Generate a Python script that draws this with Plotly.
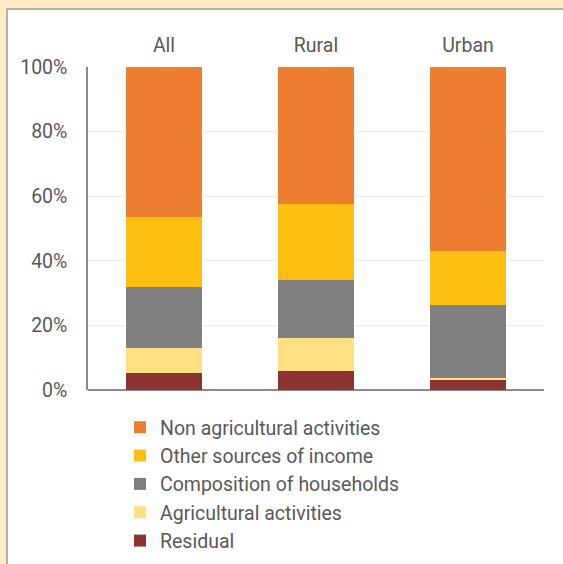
import plotly.graph_objects as go

categories = ["All", "Rural", "Urban"]
residual = [5.3, 5.9, 3.4]
agricultural = [7.7, 10.2, 0.4]
composition = [18.9, 18.0, 22.5]
other_sources = [21.7, 23.5, 16.6]
non_agricultural = [46.4, 42.4, 57.1]
y_ticks = [0, 20, 40, 60, 80, 100]
y_tick_labels = ["0%", "20%", "40%", "60%", "80%", "100%"]

series = [
    ("Residual", residual, "#8C3530"),
    ("Agricultural activities", agricultural, "#FFE083"),
    ("Composition of households", composition, "#808080"),
    ("Other sources of income", other_sources, "#FCBF12"),
    ("Non agricultural activities", non_agricultural, "#ED7D31"),
]

W, H = 563, 564
L, R, T, B = 88, 19, 67, 174
pw, ph = W - L - R, H - T - B

def px(x):
    return (x - L) / pw

def py(y):
    return (H - B - y) / ph

fig = go.Figure()
for name, vals, col in series:
    fig.add_trace(go.Bar(x=categories, y=vals, name=name, marker_color=col,
                         marker_line_width=0, width=0.5))

font_family = "Roboto, 'Noto Sans', sans-serif"
fs = 19.5
fig.update_layout(
    width=W, height=H,
    margin=dict(l=L, r=R, t=T, b=B, pad=0, autoexpand=False),
    barmode="stack",
    paper_bgcolor="white",
    plot_bgcolor="white",
    font=dict(family=font_family, size=fs, color="#595959"),
    showlegend=True,
    legend=dict(traceorder="reversed", orientation="v",
                x=px(120), xanchor="left", y=py(408), yanchor="top",
                font=dict(size=fs, color="#595959"),
                itemclick=False, tracegroupgap=0, bgcolor="rgba(0,0,0,0)"),
    xaxis=dict(side="top", showline=False, showgrid=False, ticks="",
               ticklabelstandoff=10, fixedrange=True),
    yaxis=dict(range=[0, 100], tickmode="array", tickvals=y_ticks, ticktext=y_tick_labels,
               showgrid=True, gridcolor="#EEEEEE", gridwidth=1,
               showline=True, linecolor="#8A8A8A", linewidth=1.5,
               zeroline=True, zerolinecolor="#8A8A8A", zerolinewidth=1.5,
               ticks="", ticklabelstandoff=15, fixedrange=True),
    shapes=[
        dict(type="rect", xref="paper", yref="paper", x0=px(0), x1=px(W), y0=py(0), y1=py(8),
             fillcolor="#FFEBC2", line_width=0, layer="below"),
        dict(type="rect", xref="paper", yref="paper", x0=px(0), x1=px(6), y0=py(0), y1=py(H),
             fillcolor="#FFEBC2", line_width=0, layer="below"),
        dict(type="line", xref="paper", yref="paper", x0=px(6), x1=px(W), y0=py(9), y1=py(9),
             line=dict(color="#B5B0A5", width=2)),
        dict(type="line", xref="paper", yref="paper", x0=px(7), x1=px(7), y0=py(8), y1=py(H),
             line=dict(color="#B5B0A5", width=2)),
    ],
)

fig.write_html("out.html", config={"displayModeBar": False},
               post_script="document.body.style.margin='0';document.body.style.padding='0';")
